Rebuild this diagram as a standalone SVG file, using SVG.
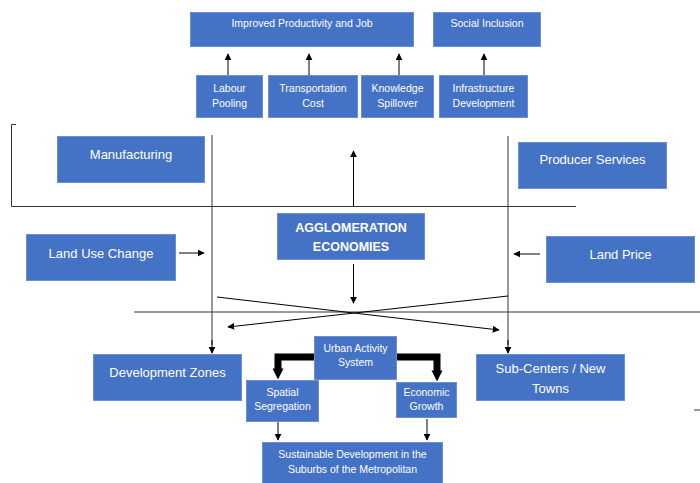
<svg xmlns="http://www.w3.org/2000/svg" width="700" height="483" viewBox="0 0 700 483">
  <defs>
    <marker id="ah" viewBox="0 0 10 10" refX="9" refY="5" markerWidth="7" markerHeight="7" markerUnits="userSpaceOnUse" orient="auto">
      <path d="M0,0 L10,5 L0,10 z" fill="#000"/>
    </marker>
    <marker id="ahBig" viewBox="0 0 10 10" refX="0.5" refY="5" markerWidth="11" markerHeight="17" markerUnits="userSpaceOnUse" orient="auto">
      <path d="M0,0 L10,5 L0,10 z" fill="#000"/>
    </marker>
  </defs>
  <style>
    .box { fill: #4472C4; stroke: #6A8FD2; stroke-width: 1; }
    .t { fill: #fff; font-family: "Liberation Sans", Arial, sans-serif; text-anchor: middle; }
    .s { font-size: 10.5px; }
    .m { font-size: 13px; }
    .b { font-size: 12.5px; font-weight: bold; }
    .ln { stroke: #333; stroke-width: 1; fill: none; }
    .ar { stroke: #000; stroke-width: 1; fill: none; marker-end: url(#ah); }
    .thick { stroke: #000; stroke-width: 7; fill: none; marker-end: url(#ahBig); }
  </style>
  <rect width="700" height="483" fill="#fff"/>

  <!-- connectors -->
  <g id="connectors">
    <!-- frame lines -->
    <path class="ln" d="M16,124.5 H11.5 V206.5 H576"/>
    <line class="ln" x1="134" y1="312" x2="700" y2="312"/>
    <line class="ln" x1="212" y1="135" x2="212" y2="345"/>
    <line class="ln" x1="508" y1="136" x2="508" y2="345"/>
    <line class="ln" x1="694" y1="410" x2="700" y2="410" stroke-width="1.5"/>
    <!-- top arrows -->
    <line class="ar" x1="228" y1="75" x2="228" y2="54"/>
    <line class="ar" x1="309" y1="75" x2="309" y2="54"/>
    <line class="ar" x1="399" y1="75" x2="399" y2="54"/>
    <line class="ar" x1="484" y1="75" x2="484" y2="54"/>
    <!-- central arrows -->
    <line class="ar" x1="353.5" y1="206" x2="353.5" y2="151"/>
    <line class="ar" x1="353.5" y1="264" x2="353.5" y2="303"/>
    <line class="ar" x1="179" y1="253" x2="204" y2="253"/>
    <line class="ar" x1="540" y1="254" x2="514" y2="254"/>
    <!-- crossing arrows -->
    <line class="ar" x1="217" y1="297" x2="499" y2="330"/>
    <line class="ar" x1="508" y1="296" x2="228" y2="327"/>
    <!-- down into zones -->
    <line class="ar" x1="212" y1="340" x2="212" y2="353"/>
    <line class="ar" x1="508" y1="340" x2="508" y2="353"/>
    <!-- urban activity system split -->
    <path class="thick" d="M314,357 H278 V369"/>
    <path class="thick" d="M396,357 H437 V371"/>
    <line class="ar" x1="278" y1="421" x2="278" y2="440"/>
    <line class="ar" x1="427" y1="419" x2="427" y2="440"/>
  </g>

  <!-- nodes -->
  <g id="improved-productivity">
    <rect class="box" x="190.5" y="12.5" width="223" height="34"/>
    <text class="t s" x="302" y="27">Improved Productivity and Job</text>
  </g>
  <g id="social-inclusion">
    <rect class="box" x="433.5" y="12.5" width="107" height="34"/>
    <text class="t s" x="487" y="27">Social Inclusion</text>
  </g>
  <g id="labour-pooling">
    <rect class="box" x="196.5" y="75.5" width="66" height="42"/>
    <text class="t s" x="229.5" y="92">Labour</text>
    <text class="t s" x="229.5" y="107">Pooling</text>
  </g>
  <g id="transportation-cost">
    <rect class="box" x="268.5" y="75.5" width="89" height="42"/>
    <text class="t s" x="313" y="92">Transportation</text>
    <text class="t s" x="313" y="107">Cost</text>
  </g>
  <g id="knowledge-spillover">
    <rect class="box" x="361.5" y="75.5" width="72" height="42"/>
    <text class="t s" x="397.5" y="92">Knowledge</text>
    <text class="t s" x="397.5" y="107">Spillover</text>
  </g>
  <g id="infrastructure-development">
    <rect class="box" x="439.5" y="75.5" width="88" height="42"/>
    <text class="t s" x="483.5" y="92">Infrastructure</text>
    <text class="t s" x="483.5" y="107">Development</text>
  </g>
  <g id="manufacturing">
    <rect class="box" x="57.5" y="136.5" width="147" height="46"/>
    <text class="t m" x="131" y="159">Manufacturing</text>
  </g>
  <g id="producer-services">
    <rect class="box" x="518.5" y="142.5" width="148" height="46"/>
    <text class="t m" x="592.5" y="164">Producer Services</text>
  </g>
  <g id="agglomeration">
    <rect class="box" x="277.5" y="213.5" width="147" height="46"/>
    <text class="t b" x="351" y="232">AGGLOMERATION</text>
    <text class="t b" x="351" y="251">ECONOMIES</text>
  </g>
  <g id="land-use-change">
    <rect class="box" x="26.5" y="234.5" width="149" height="46"/>
    <text class="t m" x="101" y="258">Land Use Change</text>
  </g>
  <g id="land-price">
    <rect class="box" x="546.5" y="236.5" width="148" height="46"/>
    <text class="t m" x="620.5" y="259">Land Price</text>
  </g>
  <g id="development-zones">
    <rect class="box" x="93.5" y="354.5" width="148" height="46"/>
    <text class="t m" x="167.5" y="377" font-size="13.5">Development Zones</text>
  </g>
  <g id="sub-centers">
    <rect class="box" x="476.5" y="354.5" width="148" height="46"/>
    <text class="t m" x="550.5" y="373" font-size="13.5">Sub-Centers / New</text>
    <text class="t m" x="550.5" y="393" font-size="13.5">Towns</text>
  </g>
  <g id="urban-activity-system">
    <rect class="box" x="314.5" y="336.5" width="82" height="43"/>
    <text class="t s" x="355.5" y="352" font-size="9.5">Urban Activity</text>
    <text class="t s" x="355.5" y="366" font-size="9.5">System</text>
  </g>
  <g id="spatial-segregation">
    <rect class="box" x="246.5" y="380.5" width="72" height="41"/>
    <text class="t s" x="282.5" y="396" font-size="9.5">Spatial</text>
    <text class="t s" x="282.5" y="410" font-size="9.5">Segregation</text>
  </g>
  <g id="economic-growth">
    <rect class="box" x="396.5" y="382.5" width="60" height="35"/>
    <text class="t s" x="426.5" y="396" font-size="9.5">Economic</text>
    <text class="t s" x="426.5" y="410" font-size="9.5">Growth</text>
  </g>
  <g id="sustainable-development">
    <rect class="box" x="262.5" y="442.5" width="180" height="44"/>
    <text class="t s" x="352.5" y="458">Sustainable Development in the</text>
    <text class="t s" x="352.5" y="473">Suburbs of the Metropolitan</text>
  </g>
</svg>
